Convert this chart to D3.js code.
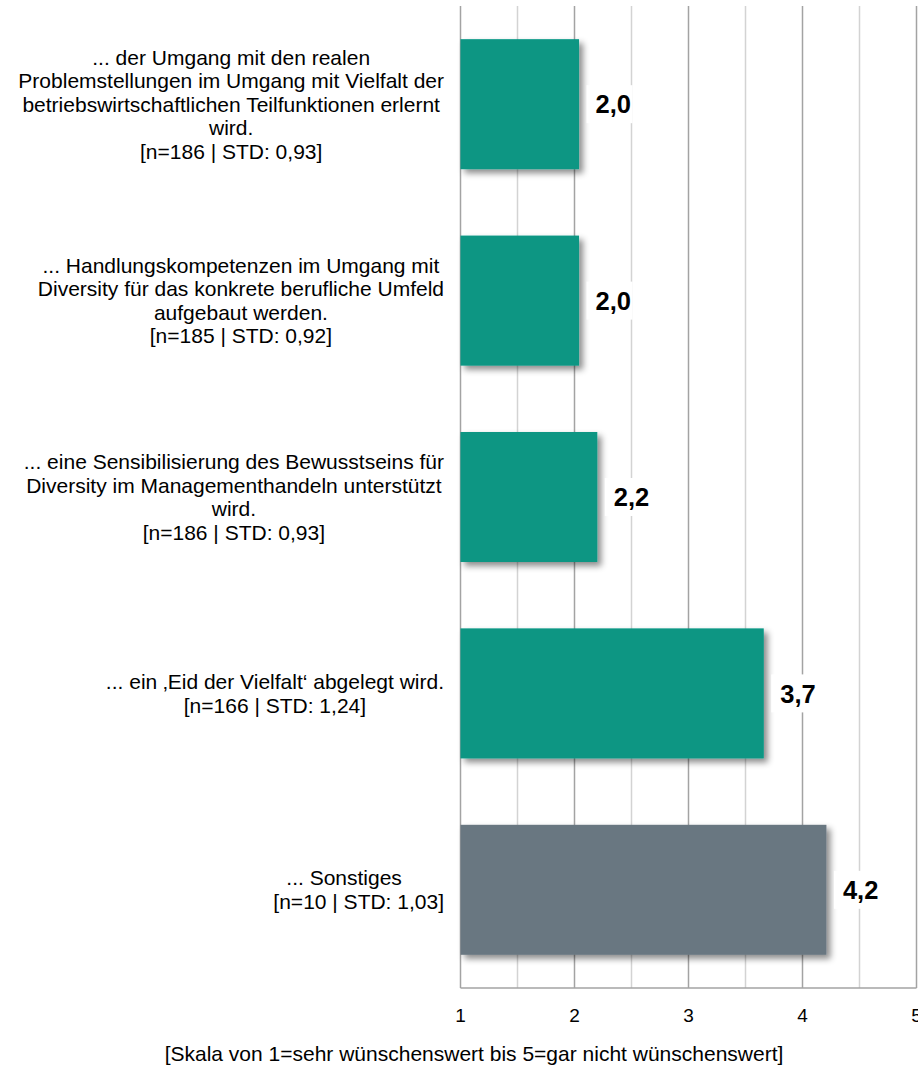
<!DOCTYPE html>
<html>
<head>
<meta charset="utf-8">
<script src="https://cdn.jsdelivr.net/npm/d3@7"></script>
<style>
  body { margin: 0; background: #fff; }
  text { font-family: 'Liberation Sans', Arial, sans-serif; fill: #000; }
</style>
</head>
<body>
<div id="chart"></div>
<script>
// category texts (wrapped the way the original shows them)
const categories = [
  ['... der Umgang mit den realen', 'Problemstellungen im Umgang mit Vielfalt der', 'betriebswirtschaftlichen Teilfunktionen erlernt', 'wird.'],
  ['... Handlungskompetenzen im Umgang mit', 'Diversity für das konkrete berufliche Umfeld', 'aufgebaut werden.'],
  ['... eine Sensibilisierung des Bewusstseins für', 'Diversity im Managementhandeln unterstützt', 'wird.'],
  ['... ein \u201AEid der Vielfalt\u2018 abgelegt wird.'],
  ['... Sonstiges\u00a0\u00a0\u00a0\u00a0\u00a0']
];
const nValues = [186, 185, 186, 166, 10];
const stdValues = ['0,93', '0,92', '0,93', '1,24', '1,03'];
// mean values (1 = sehr wünschenswert ... 5 = gar nicht wünschenswert)
const means = [2.04, 2.04, 2.20, 3.66, 4.21];
const barColors = ['#079683', '#079683', '#079683', '#079683', '#697781'];
const xTicks = [1, 2, 3, 4, 5];
const gridValues = [1, 1.5, 2, 2.5, 3, 3.5, 4, 4.5, 5];
const axisTitle = '[Skala von 1=sehr wünschenswert bis 5=gar nicht wünschenswert]';

const width = 918;
const height = 1068;
const plot = { left: 460.5, right: 916.5, top: 6, bottom: 988 };

const rows = categories.map((lines, i) => ({
  id: i,
  lines: lines.concat([`[n=${nValues[i]} | STD: ${stdValues[i]}]`]),
  mean: means[i],
  color: barColors[i]
}));

const xScale = d3.scaleLinear().domain([1, 5]).range([plot.left, plot.right]);
const yScale = d3.scaleBand()
  .domain(rows.map(d => d.id))
  .range([plot.top, plot.bottom])
  .paddingInner(0.338)
  .paddingOuter(0.169);

const svg = d3.select('#chart')
  .append('svg')
  .attr('width', width)
  .attr('height', height);

// drop shadow for the bars
const defs = svg.append('defs');
defs.append('filter')
  .attr('id', 'shadow')
  .attr('x', '-5%').attr('y', '-10%')
  .attr('width', '120%').attr('height', '130%')
  .append('feDropShadow')
  .attr('dx', 4).attr('dy', 4)
  .attr('stdDeviation', 3)
  .attr('flood-color', '#000')
  .attr('flood-opacity', 0.45);

// vertical gridlines, whole numbers darker than halves
svg.append('g')
  .selectAll('line')
  .data(gridValues)
  .enter()
  .append('line')
  .attr('x1', d => xScale(d))
  .attr('x2', d => xScale(d))
  .attr('y1', plot.top)
  .attr('y2', plot.bottom)
  .attr('stroke', d => (d % 1 === 0 ? '#a3a3a3' : '#d3d3d3'))
  .attr('stroke-width', 1.5);

// bottom axis line
svg.append('line')
  .attr('x1', xScale(1))
  .attr('x2', xScale(5))
  .attr('y1', plot.bottom)
  .attr('y2', plot.bottom)
  .attr('stroke', '#a3a3a3')
  .attr('stroke-width', 1.5);

// bars
svg.append('g')
  .selectAll('rect')
  .data(rows)
  .enter()
  .append('rect')
  .attr('x', xScale(1))
  .attr('y', d => yScale(d.id))
  .attr('width', d => xScale(d.mean) - xScale(1))
  .attr('height', yScale.bandwidth())
  .attr('fill', d => d.color)
  .attr('filter', 'url(#shadow)');

// value labels with white box behind
const valueLabel = svg.append('g')
  .selectAll('g')
  .data(rows)
  .enter()
  .append('g')
  .attr('transform', d => `translate(${xScale(d.mean)}, ${yScale(d.id) + yScale.bandwidth() / 2})`);

valueLabel.append('rect')
  .attr('x', 7.5)
  .attr('y', -19)
  .attr('width', 46)
  .attr('height', 38)
  .attr('fill', '#fff');

valueLabel.append('text')
  .attr('x', 16.5)
  .attr('y', 9.2)
  .style('font-size', '25.5px')
  .style('font-weight', 'bold')
  .text(d => d.mean.toFixed(1).replace('.', ','));

// category labels: lines centred on each other, block right aligned near the axis
const labelSize = 21;
const lineHeight = 23.5;
const labelRight = 444;

const labelGroups = svg.append('g')
  .selectAll('text')
  .data(rows)
  .enter()
  .append('text')
  .attr('text-anchor', 'middle')
  .style('font-size', labelSize + 'px');

labelGroups.each(function (d) {
  const el = d3.select(this);
  const cy = yScale(d.id) + yScale.bandwidth() / 2;
  const firstBaseline = cy - (d.lines.length - 1) * lineHeight / 2 + labelSize * 0.35;
  d.lines.forEach((line, i) => {
    el.append('tspan')
      .attr('x', 0)
      .attr('y', firstBaseline + i * lineHeight)
      .text(line);
  });
  // width of the widest line decides where the block sits
  const maxW = d3.max(el.selectAll('tspan').nodes(), n => n.getComputedTextLength());
  el.selectAll('tspan').attr('x', labelRight - maxW / 2);
});

// tick labels
svg.append('g')
  .selectAll('text')
  .data(xTicks)
  .enter()
  .append('text')
  .attr('x', d => xScale(d))
  .attr('y', 1021.5)
  .attr('text-anchor', 'middle')
  .style('font-size', '19px')
  .text(d => d);

// axis title
svg.append('text')
  .attr('x', 474)
  .attr('y', 1061)
  .attr('text-anchor', 'middle')
  .style('font-size', '21px')
  .text(axisTitle);
</script>
</body>
</html>
